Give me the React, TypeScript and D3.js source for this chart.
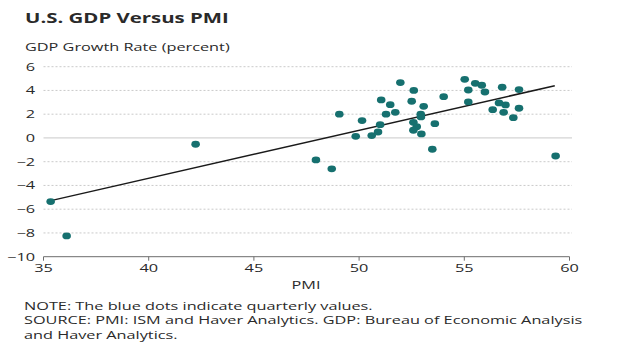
import React from "react";
import * as d3 from "d3";

const pmi = [35.34, 36.1, 42.23, 47.95, 48.7, 49.06, 49.84, 50.14, 50.6, 50.9, 51.0, 51.05, 51.28, 51.48, 51.72, 51.96, 52.5, 52.6, 52.58, 52.74, 52.58, 52.93, 52.94, 53.07, 52.96, 53.48, 53.6, 54.02, 55.02, 55.19, 55.19, 55.52, 55.83, 55.98, 56.35, 56.65, 56.8, 56.87, 56.96, 57.33, 57.6, 57.6, 59.34];
const gdp = [-5.36, -8.25, -0.53, -1.85, -2.6, 2.0, 0.14, 1.46, 0.2, 0.5, 1.12, 3.2, 2.0, 2.8, 2.16, 4.66, 3.09, 4.0, 1.32, 0.95, 0.65, 2.0, 1.77, 2.66, 0.34, -0.95, 1.2, 3.48, 4.94, 4.04, 3.03, 4.6, 4.44, 3.87, 2.38, 2.95, 4.27, 2.16, 2.78, 1.71, 4.07, 2.5, -1.52];
const trendPmi = [35.3, 59.3];
const trendGdp = [-5.3, 4.4];
const xTicks = [35, 40, 45, 50, 55, 60];
const yTicks = [6, 4, 2, 0, -2, -4, -6, -8, -10];

const title = "U.S. GDP Versus PMI";
const yLabel = "GDP Growth Rate (percent)";
const xLabel = "PMI";
const notes = [
  "NOTE: The blue dots indicate quarterly values.",
  "SOURCE: PMI: ISM and Haver Analytics. GDP: Bureau of Economic Analysis",
  "and Haver Analytics.",
];

const SX = 1.48;
const FS = 11;
const TXT = "#2a2a2a";

function T(props: { x: number; y: number; children: any; anchor?: string; size?: number; weight?: number; sx?: number }) {
  const { x, y, children, anchor = "start", size = FS, weight = 400, sx = SX } = props;
  return (
    <text transform={`translate(${x},${y}) scale(${sx},1)`} fontSize={size} fontWeight={weight} textAnchor={anchor} fill={TXT}>
      {children}
    </text>
  );
}

export default function App() {
  const W = 623, H = 356;
  const x = d3.scaleLinear().domain([35, 60]).range([43.5, 569.5]);
  const y = d3.scaleLinear().domain([-10, 6]).range([256.7, 66.7]);
  const font = "'Open Sans', 'Noto Sans', sans-serif";
  const line = d3.line<number>().x((d, i) => x(trendPmi[i])).y((d) => y(d));
  return (
    <svg width={W} height={H} style={{ position: "absolute", left: 0, top: 0, background: "#fff" }} fontFamily={font}>
      <T x={25} y={23.3} size={15} weight={700} sx={1.36}>{title}</T>
      <T x={25} y={50.7}>{yLabel}</T>
      {yTicks.map((t) => (
        <g key={t}>
          {t !== -10 && (
            <line x1={x(35)} x2={572} y1={y(t)} y2={y(t)}
              stroke={t === 0 ? "#d4d4d4" : "#bdbdbd"} strokeWidth={t === 0 ? 1.2 : 0.8}
              strokeDasharray={t === 0 ? undefined : "2,2"} />
          )}
          <T x={35} y={y(t) + 4} anchor="end">
            {t < 0 ? "\u2212" + Math.abs(t) : String(t)}
          </T>
        </g>
      ))}
      <line x1={x(35)} x2={x(60)} y1={y(-10)} y2={y(-10)} stroke="#6d6d6d" strokeWidth={1} />
      {xTicks.map((t) => (
        <g key={t}>
          <line x1={x(t)} x2={x(t)} y1={y(-10)} y2={y(-10) + 4} stroke="#6d6d6d" strokeWidth={1} />
          <T x={x(t)} y={271.5} anchor="middle">{t}</T>
        </g>
      ))}
      <T x={306} y={288.5} anchor="middle">{xLabel}</T>
      <path d={line(trendGdp) || ""} stroke="#1a1a1a" strokeWidth={1.5} fill="none" />
      {pmi.map((p, i) => (
        <ellipse key={i} cx={x(p)} cy={y(gdp[i])} rx={4.3} ry={3.4} fill="#16706f" />
      ))}
      {notes.map((n, i) => (
        <T key={i} x={24} y={309.5 + i * 14.5}>{n}</T>
      ))}
    </svg>
  );
}
